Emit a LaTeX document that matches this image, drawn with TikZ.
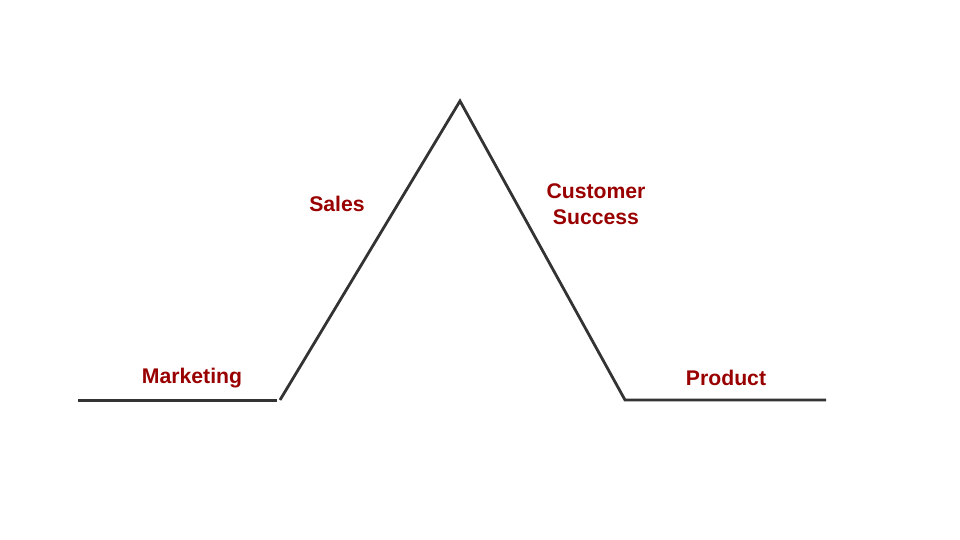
\documentclass[tikz,border=0pt]{standalone}
\usepackage{fontspec}
\setmainfont{Liberation Sans}
\usepackage{tikz}

\definecolor{stagered}{HTML}{990000}
\definecolor{pathgray}{HTML}{333333}

\begin{document}
\begin{tikzpicture}[
        x=1pt, y=-1pt,
        path/.style={draw=pathgray, line width=2.8pt, line join=miter},
        lbl/.style={draw=none, fill=none, text=stagered, font=\fontsize{21.2}{26}\selectfont\bfseries, inner sep=0pt, align=center}
    ]

    \useasboundingbox (0,0) rectangle (960,540);

    % Ecken
    \coordinate (m0) at (78,400.5);
    \coordinate (m1) at (277,400.5);
    \coordinate (s0) at (280,400);
    \coordinate (top) at (460,101);
    \coordinate (c0) at (625,400);
    \coordinate (p1) at (826,400);

    % Linien
    \draw[path] (m0) -- (m1);
    \draw[path] (s0) -- (top) -- (c0) -- (p1);

    % Beschriftungen
    \node[lbl] (marketing) at (192,378.5) {Marketing};
    \node[lbl] (sales) at (337,204) {Sales};
    \node[lbl] (success) at (596,204) {Customer\\Success};
    \node[lbl] (product) at (726,378) {Product};

\end{tikzpicture}
\end{document}
